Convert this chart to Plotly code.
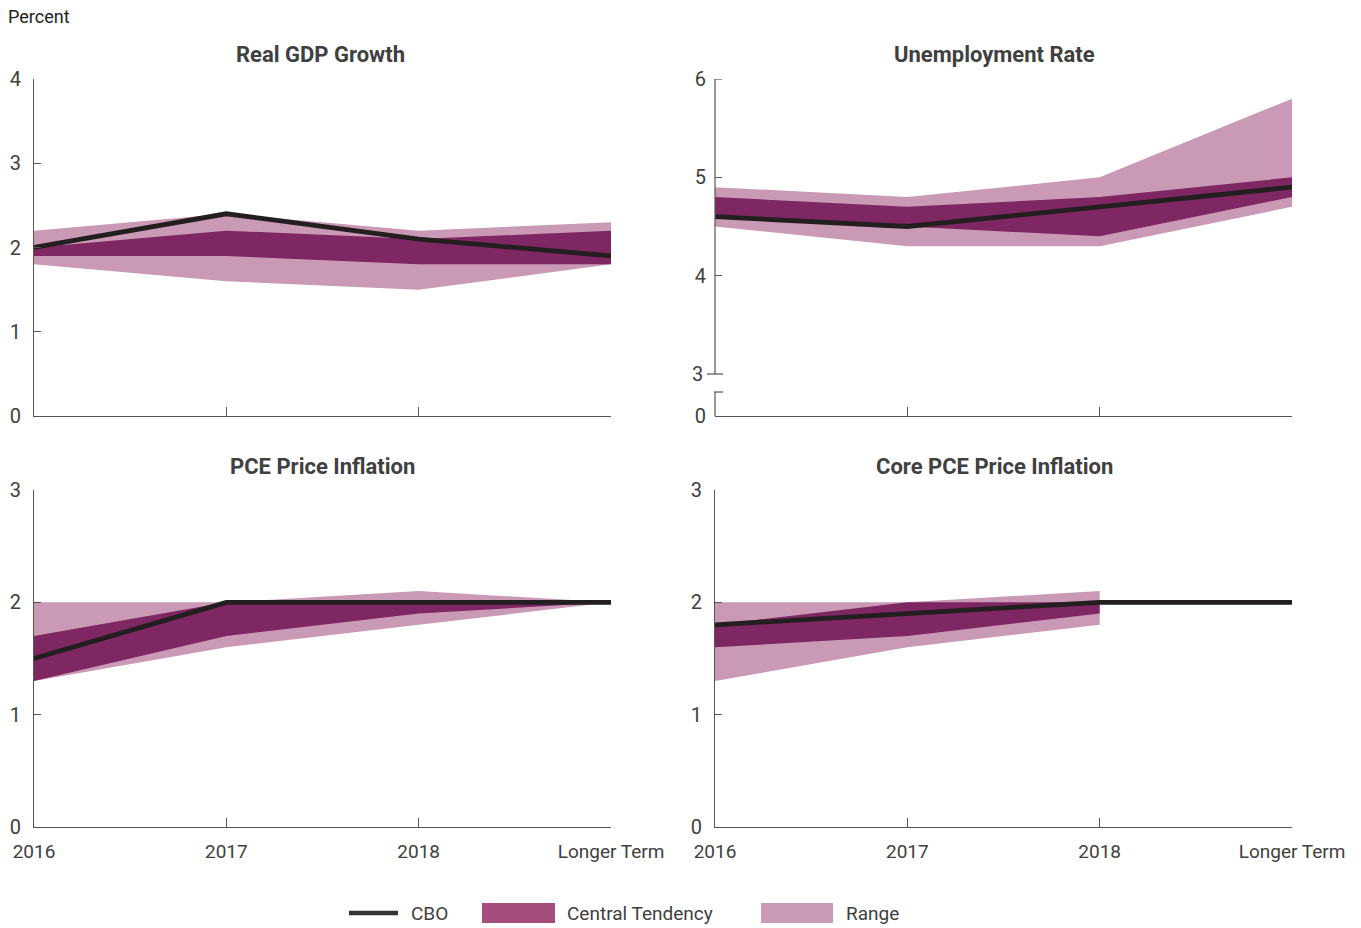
import plotly.graph_objects as go

categories = ["2016", "2017", "2018", "Longer Term"]

gdp_cbo = [2.0, 2.4, 2.1, 1.9]
gdp_ct_low = [1.9, 1.9, 1.8, 1.8]
gdp_ct_high = [2.0, 2.2, 2.1, 2.2]
gdp_range_low = [1.8, 1.6, 1.5, 1.8]
gdp_range_high = [2.2, 2.4, 2.2, 2.3]

unemp_cbo = [4.6, 4.5, 4.7, 4.9]
unemp_ct_low = [4.6, 4.5, 4.4, 4.8]
unemp_ct_high = [4.8, 4.7, 4.8, 5.0]
unemp_range_low = [4.5, 4.3, 4.3, 4.7]
unemp_range_high = [4.9, 4.8, 5.0, 5.8]

pce_cbo = [1.5, 2.0, 2.0, 2.0]
pce_ct_low = [1.3, 1.7, 1.9, 2.0]
pce_ct_high = [1.7, 2.0, 2.0, 2.0]
pce_range_low = [1.3, 1.6, 1.8, 2.0]
pce_range_high = [2.0, 2.0, 2.1, 2.0]

core_cbo = [1.8, 1.9, 2.0, 2.0]
core_ct_low = [1.6, 1.7, 1.9, None]
core_ct_high = [1.8, 2.0, 2.0, None]
core_range_low = [1.3, 1.6, 1.8, None]
core_range_high = [2.0, 2.0, 2.1, None]

panel_titles = ["Real GDP Growth", "Unemployment Rate", "PCE Price Inflation", "Core PCE Price Inflation"]
legend_labels = ["CBO", "Central Tendency", "Range"]

W, H = 1361, 928
RANGE_COLOR = "#C999B5"
CT_COLOR = "#7F2763"
CT_LEGEND = "#A64D7D"
LINE_COLOR = "#231F20"
AXIS_COLOR = "#555555"
TEXT_COLOR = "#404040"
FONT = "Roboto"


def px(x):
    return x / W


def py(y):
    return 1 - y / H


fig = go.Figure()


def band(low, high, color, xa, ya):
    pts = [(c, l, h) for c, l, h in zip(categories, low, high) if l is not None]
    xs = [p[0] for p in pts] + [p[0] for p in reversed(pts)]
    ys = [p[2] for p in pts] + [p[1] for p in reversed(pts)]
    fig.add_trace(go.Scatter(x=xs, y=ys, fill="toself", fillcolor=color, mode="lines",
                             line=dict(width=0, color=color), xaxis=xa, yaxis=ya,
                             showlegend=False, hoverinfo="skip"))


def cbo(vals, xa, ya):
    fig.add_trace(go.Scatter(x=categories, y=vals, mode="lines",
                             line=dict(color=LINE_COLOR, width=4.8), xaxis=xa, yaxis=ya,
                             showlegend=False, name="CBO"))


panels = [
    ("x", "y", gdp_range_low, gdp_range_high, gdp_ct_low, gdp_ct_high, gdp_cbo),
    ("x2", "y2", unemp_range_low, unemp_range_high, unemp_ct_low, unemp_ct_high, unemp_cbo),
    ("x3", "y3", pce_range_low, pce_range_high, pce_ct_low, pce_ct_high, pce_cbo),
    ("x4", "y4", core_range_low, core_range_high, core_ct_low, core_ct_high, core_cbo),
]
for xa, ya, rl, rh, cl, ch, cb in panels:
    band(rl, rh, RANGE_COLOR, xa, ya)
    band(cl, ch, CT_COLOR, xa, ya)
    cbo(cb, xa, ya)

left_dom = [px(34), px(611)]
right_dom = [px(715), px(1292)]
top_dom = [py(416), py(79)]
bot_dom = [py(827), py(490)]

tickfont = dict(family=FONT, size=19, color=TEXT_COLOR)


def xaxis(domain, anchor, labels):
    return dict(domain=domain, anchor=anchor, type="category", categoryarray=categories,
                categoryorder="array", range=[0, 3], showline=True, linecolor=AXIS_COLOR,
                linewidth=1.2, ticks="inside", ticklen=9, tickcolor=AXIS_COLOR,
                tickvals=categories, showticklabels=labels, tickfont=tickfont,
                ticklabelstandoff=7, automargin=False,
                showgrid=False, zeroline=False, fixedrange=True)


def yaxis(domain, anchor, rng, tickvals, ticktext, showline=True):
    return dict(domain=domain, anchor=anchor, range=rng, showline=showline,
                linecolor=AXIS_COLOR, linewidth=1.2, ticks="inside", ticklen=7,
                tickcolor=AXIS_COLOR, tickvals=tickvals, ticktext=ticktext,
                tickfont=dict(family=FONT, size=20, color=TEXT_COLOR),
                ticklabelstandoff=8, automargin=False,
                showgrid=False, zeroline=False, fixedrange=True)


UNEMP_BOTTOM = 2.573
UNEMP_BREAK = 2.817

fig.update_layout(
    width=W, height=H, autosize=False,
    margin=dict(l=0, r=0, t=0, b=0, pad=0),
    paper_bgcolor="white", plot_bgcolor="white",
    showlegend=False,
    xaxis=xaxis(left_dom, "y", False),
    yaxis=yaxis(top_dom, "x", [0, 4], [0, 1, 2, 3, 4], ["0", "1", "2", "3", "4"]),
    xaxis2=xaxis(right_dom, "y2", False),
    yaxis2=yaxis(top_dom, "x2", [UNEMP_BOTTOM, 6], [UNEMP_BOTTOM, 4, 5, 6],
                 ["0", "4", "5", "6"], showline=False),
    xaxis3=xaxis(left_dom, "y3", True),
    yaxis3=yaxis(bot_dom, "x3", [0, 3], [0, 1, 2, 3], ["0", "1", "2", "3"]),
    xaxis4=xaxis(right_dom, "y4", True),
    yaxis4=yaxis(bot_dom, "x4", [0, 3], [0, 1, 2, 3], ["0", "1", "2", "3"]),
)

# broken y-axis for the unemployment panel
ax_x = right_dom[0]
cap = 8 / W
line_style = dict(color=AXIS_COLOR, width=1.2)
fig.add_shape(type="line", xref="paper", yref="y2", x0=ax_x, x1=ax_x, y0=3, y1=6, line=line_style)
fig.add_shape(type="line", xref="paper", yref="y2", x0=ax_x, x1=ax_x, y0=UNEMP_BOTTOM, y1=UNEMP_BREAK, line=line_style)
fig.add_shape(type="line", xref="paper", yref="y2", x0=ax_x - cap, x1=ax_x + cap, y0=3, y1=3, line=line_style)
fig.add_shape(type="line", xref="paper", yref="y2", x0=ax_x - 1 / W, x1=ax_x + cap, y0=UNEMP_BREAK, y1=UNEMP_BREAK, line=line_style)
fig.add_shape(type="line", xref="paper", yref="y2", x0=ax_x, x1=ax_x + 7 / W, y0=6, y1=6, line=line_style)
fig.add_annotation(text="3", xref="paper", yref="y2", x=px(705), y=3, xanchor="right",
                   yanchor="middle", showarrow=False, font=dict(family=FONT, size=20, color=TEXT_COLOR))

# panel titles
title_pos = [(320, 54), (994, 54), (322, 467), (994, 467)]
for t, (cx, cy) in zip(panel_titles, title_pos):
    fig.add_annotation(text="<b>" + t + "</b>", xref="paper", yref="paper", x=px(cx), y=py(cy),
                       xanchor="center", yanchor="middle", showarrow=False,
                       font=dict(family=FONT, size=22, color=TEXT_COLOR))

fig.add_annotation(text="Percent", xref="paper", yref="paper", x=px(6), y=py(17),
                   xanchor="left", yanchor="middle", showarrow=False,
                   font=dict(family=FONT, size=18, color="#222222"))

# legend
ly = 913
fig.add_shape(type="line", xref="paper", yref="paper", x0=px(349), x1=px(398), y0=py(ly), y1=py(ly),
              line=dict(color="#333333", width=4.5))
fig.add_shape(type="rect", xref="paper", yref="paper", x0=px(482), x1=px(555), y0=py(923), y1=py(903),
              fillcolor=CT_LEGEND, line=dict(width=0))
fig.add_shape(type="rect", xref="paper", yref="paper", x0=px(761), x1=px(833), y0=py(923), y1=py(903),
              fillcolor=RANGE_COLOR, line=dict(width=0))
for label, lx in zip(legend_labels, [409, 565, 844]):
    fig.add_annotation(text=label, xref="paper", yref="paper", x=px(lx), y=py(ly),
                       xanchor="left", yanchor="middle", showarrow=False,
                       font=dict(family=FONT, size=19, color=TEXT_COLOR))

fig.write_html("out.html", config={"displayModeBar": False},
               post_script="document.body.style.margin='0';document.body.style.overflow='hidden';")
